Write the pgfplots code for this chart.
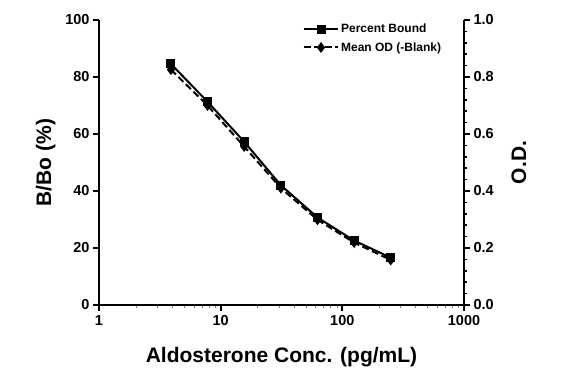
\documentclass[border=0pt]{standalone}
\usepackage{pgfplots}
\pgfplotsset{compat=1.18}
\usepackage{fontspec}
\setmainfont{Liberation Sans}
\begin{document}
\begin{tikzpicture}[x=1pt,y=1pt]
\pgfplotsset{
  every axis/.append style={
    scale only axis, width=365pt, height=285pt,
    /pgf/number format/assume math mode=true,
    tick label style={font=\bfseries\fontsize{14.5}{16}\selectfont},
    label style={font=\bfseries\fontsize{21}{23}\selectfont},
    axis line style={line width=2.8pt},
    major tick style={line width=2.2pt, black},
    major tick length=6pt,
  }
}
\begin{axis}[
  name=ax,
  xmode=log, xmin=1, xmax=1000,
  ymin=0, ymax=100,
  axis x line*=bottom, axis y line*=left,
  xtick={1,10,100,1000},
  xticklabels={1,10,100,1000},
  minor xtick={},
  ytick={0,20,...,100},
  tick align=outside,
  xlabel={Aldosterone Conc. (pg/mL)},
  ylabel={B/Bo (\%)},
  xticklabel style={yshift=-1pt},
  xlabel style={yshift=-15pt},
  ylabel style={yshift=3pt},
  legend style={draw=none, fill=none, at={(0.55,1.0)}, anchor=north west,
    font=\bfseries\fontsize{12}{14}\selectfont, row sep=4pt,
    legend cell align=left},
  legend image code/.code={
    \draw[mark repeat=2,mark phase=2,#1] plot coordinates {(0cm,0cm) (0.6cm,0cm) (1.2cm,0cm)};},
]
\addplot[black, line width=2pt, mark=square*, mark size=3.5pt] coordinates {
(3.9,84.6) (7.8,71.3) (15.6,57.3) (31.25,42.0) (62.5,30.7) (125,22.6) (250,16.6)};
\addlegendentry{Percent Bound}
\addlegendimage{black, line width=2pt, dash pattern=on 7pt off 3.5pt, mark=diamond*, mark size=3.8pt, mark options={solid}}
\addlegendentry{Mean OD (-Blank)}
\end{axis}
\begin{axis}[
  xmode=log, xmin=1, xmax=1000,
  ymin=0, ymax=1,
  axis x line=none, axis y line*=right,
  ytick={0,0.2,...,1.0},
  yticklabel style={/pgf/number format/.cd, fixed, fixed zerofill, precision=1},
  minor y tick num=4,
  minor tick length=3pt,
  minor tick style={line width=1.6pt, black},
  tick align=outside,
  ylabel={O.D.},
  ylabel style={yshift=-11pt},
]
\addplot[black, line width=2pt, dash pattern=on 7pt off 3.5pt, mark=diamond*, mark size=3.8pt, mark options={solid}] coordinates {
(3.9,0.826) (7.8,0.700) (15.6,0.556) (31.25,0.410) (62.5,0.299) (125,0.219) (250,0.158)};
\end{axis}
\pgfresetboundingbox
\useasboundingbox (ax.south west) ++(-99pt,-72pt) rectangle ++(565pt,377pt);
\end{tikzpicture}
\end{document}
